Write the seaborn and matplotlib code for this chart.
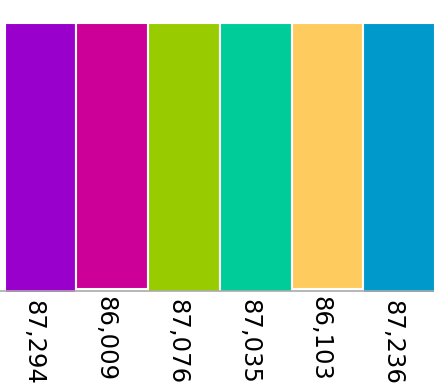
import numpy as np
import pandas as pd
import matplotlib
matplotlib.use('Agg')
import matplotlib.pyplot as plt
import seaborn as sns

categories = ['A', 'B', 'C', 'D', 'E', 'F']
values = [87294, 86009, 87076, 87035, 86103, 87236]
colors = ['#9900CC', '#CC0099', '#99CC00', '#00CC99', '#FECB5F', '#0099CC']

df = pd.DataFrame({'cat': categories, 'value': values})

sns.set_style('white')
fig = plt.figure(figsize=(4.34, 3.92), dpi=100)
ax = fig.add_axes([0, 1 - 290.7 / 392, 1, (290.7 - 23) / 392])

sns.barplot(data=df, x='cat', y='value', hue='cat', palette=colors, legend=False,
            width=1, edgecolor='white', linewidth=1.5, saturation=1, ax=ax)
for p in ax.patches:
    p.set_clip_on(False)

ax.set_ylim(86550, 0)
ax.set_xlim(-0.566, 5.483)

for i, v in enumerate(values):
    ax.annotate(f'{v:,}', xy=(i, v), xytext=(-5, -5), textcoords='offset points',
                rotation=270, ha='center', va='top', fontsize=17.5, color='black',
                annotation_clip=False)

ax.set_xticks([])
ax.set_yticks([])
ax.set_xlabel('')
ax.set_ylabel('')
for s in ['top', 'left', 'right']:
    ax.spines[s].set_visible(False)
ax.spines['bottom'].set_color('#aaaaaa')
ax.spines['bottom'].set_linewidth(1.2)
ax.spines['bottom'].set_zorder(5)

fig.savefig('out.png', dpi=100)
